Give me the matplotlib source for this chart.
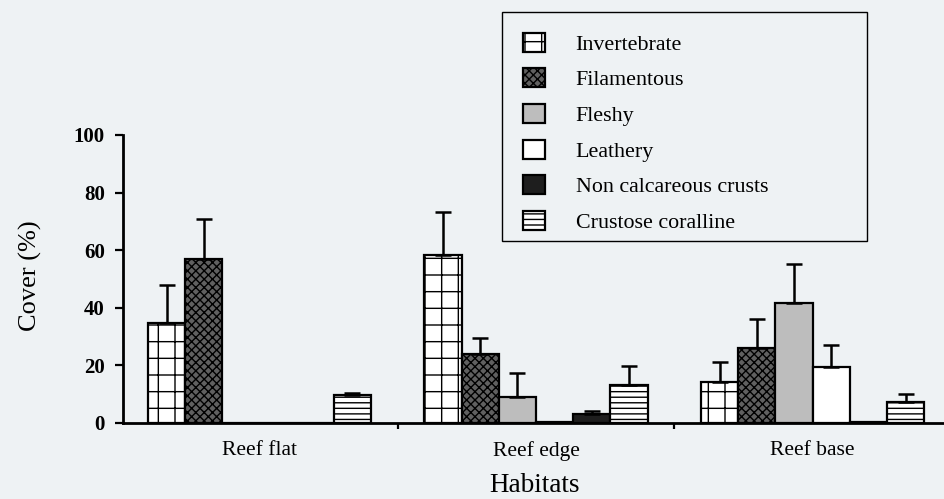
import numpy as np
import matplotlib
matplotlib.use("Agg")
import matplotlib.pyplot as plt
from matplotlib.patches import Rectangle

# Percentage cover by habitat (means and upper error bars)
habitats = ["Reef flat", "Reef edge", "Reef base"]
series_names = ["Invertebrate", "Filamentous", "Fleshy", "Leathery",
                "Non calcareous crusts", "Crustose coralline"]

invertebrate = [34.7, 58.5, 14.2]
invertebrate_err = [13.2, 14.8, 7.0]
filamentous = [57.0, 24.0, 26.0]
filamentous_err = [13.8, 5.5, 10.0]
fleshy = [0.0, 9.0, 41.7]
fleshy_err = [0.0, 8.4, 13.5]
leathery = [0.0, 0.3, 19.4]
leathery_err = [0.0, 0.0, 7.6]
noncalcareous = [0.0, 3.0, 0.5]
noncalcareous_err = [0.0, 1.0, 0.0]
crustose = [9.7, 13.2, 7.3]
crustose_err = [0.7, 6.6, 2.7]

yticks = [0, 20, 40, 60, 80, 100]

values = [invertebrate, filamentous, fleshy, leathery, noncalcareous, crustose]
errors = [invertebrate_err, filamentous_err, fleshy_err, leathery_err,
          noncalcareous_err, crustose_err]

styles = [
    dict(facecolor="white", hatch="+"),
    dict(facecolor="#606060", hatch="xxxx"),
    dict(facecolor="#bdbdbd", hatch=None),
    dict(facecolor="white", hatch=None),
    dict(facecolor="#1e1e1e", hatch=None),
    dict(facecolor="white", hatch="---"),
]

bg = "#eef2f4"
plt.rcParams["hatch.linewidth"] = 1.0
serif = ["Liberation Serif", "DejaVu Serif"]

fig = plt.figure(figsize=(9.45, 4.99), dpi=100, facecolor=bg)
ax = fig.add_axes([123 / 945, 76 / 499, 822 / 945, 288 / 499], facecolor=bg)

x = np.arange(len(habitats))
width = 0.1345
handles = []
for i, (vals, errs, name, st) in enumerate(zip(values, errors, series_names, styles)):
    pos = x + (i - 2.5) * width
    bars = ax.bar(pos, vals, width, facecolor=st["facecolor"], hatch=st["hatch"],
                  edgecolor="black", linewidth=1.6, label=name, zorder=2)
    handles.append(bars)
    errs = np.asarray(errs)
    mask = errs > 0
    if mask.any():
        ax.errorbar(pos[mask], np.asarray(vals)[mask],
                    yerr=[np.zeros(mask.sum()), errs[mask]],
                    fmt="none", ecolor="black", elinewidth=1.8,
                    capsize=6, capthick=1.8, zorder=3)

ax.set_xlim(-0.4937, 2.479)
ax.set_ylim(0, 100)
ax.set_yticks(yticks)
ax.set_yticklabels([str(t) for t in yticks], fontfamily=serif,
                   fontweight="bold", fontsize=15)
ax.tick_params(axis="y", direction="out", length=6, width=1.6, pad=7)

ax.set_xticks(x)
ax.set_xticklabels(habitats, fontfamily=serif, fontsize=15.5)
ax.tick_params(axis="x", length=0, pad=13)
ax.set_xticks([0.5, 1.5], minor=True)
ax.tick_params(axis="x", which="minor", direction="out", length=4, width=1.6)

for side in ["top", "right"]:
    ax.spines[side].set_visible(False)
ax.spines["left"].set_linewidth(2.0)
ax.spines["bottom"].set_linewidth(2.0)

fig.text(30 / 945, 1 - 276 / 499, "Cover (%)", rotation=90, ha="center",
         va="center", fontfamily=serif, fontsize=19)
fig.text(535 / 945, 1 - 486 / 499, "Habitats", ha="center", va="center",
         fontfamily=serif, fontsize=19.5)

# Legend entries without their own frame; the box is drawn separately
fig.legend(handles=handles, labels=series_names,
           loc="upper left",
           bbox_to_anchor=(502 / 945, 1 - 241 / 499, 365 / 945, 229 / 499),
           bbox_transform=fig.transFigure, borderaxespad=0, mode="expand",
           prop={"family": serif, "size": 15.8},
           handlelength=1.0, handleheight=0.95, handletextpad=1.4,
           labelspacing=0.62, borderpad=0.95, frameon=False)
fig.patches.append(Rectangle((502 / 945, 1 - 241 / 499), 365 / 945, 229 / 499,
                             transform=fig.transFigure, facecolor="none",
                             edgecolor="black", linewidth=1.0, zorder=5))

fig.savefig("out.png", dpi=100, facecolor=bg)
